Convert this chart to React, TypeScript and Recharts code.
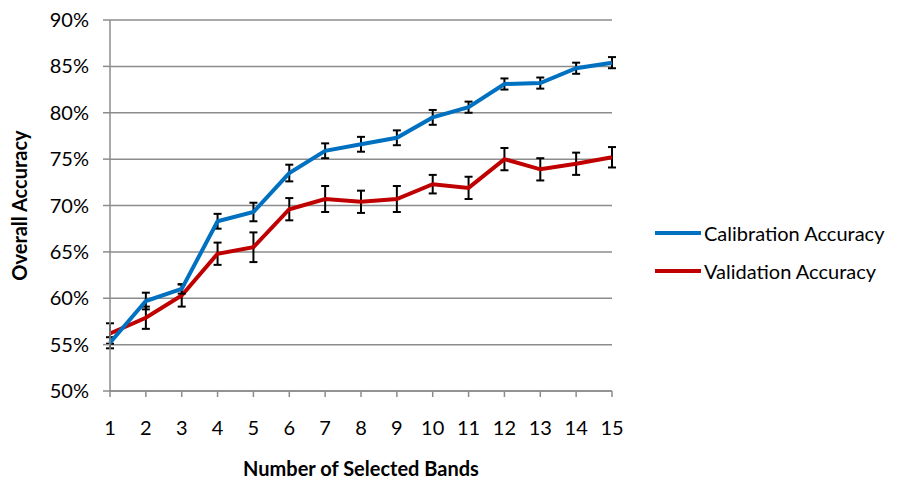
import { LineChart, Line, XAxis, YAxis, CartesianGrid, ErrorBar } from "recharts";

const bands = ["1", "2", "3", "4", "5", "6", "7", "8", "9", "10", "11", "12", "13", "14", "15"];
const calibration = [55.2, 59.7, 61.0, 68.3, 69.3, 73.5, 75.9, 76.6, 77.3, 79.5, 80.6, 83.1, 83.2, 84.8, 85.4];
const calibrationErr = [0.6, 0.9, 0.5, 0.8, 1.0, 0.9, 0.8, 0.8, 0.8, 0.8, 0.6, 0.6, 0.6, 0.6, 0.6];
const validation = [56.2, 57.9, 60.3, 64.8, 65.5, 69.6, 70.7, 70.4, 70.7, 72.3, 71.9, 75.0, 73.9, 74.5, 75.2];
const validationErr = [1.1, 1.2, 1.2, 1.2, 1.6, 1.2, 1.4, 1.2, 1.4, 1.0, 1.2, 1.2, 1.2, 1.2, 1.1];
const yTicks = [50, 55, 60, 65, 70, 75, 80, 85, 90];

const data = bands.map((b, i) => ({
  band: b,
  cal: calibration[i],
  calErr: calibrationErr[i],
  val: validation[i],
  valErr: validationErr[i],
}));

const FONT = "Lato, 'Open Sans', sans-serif";
const GRAY = "#8c8c8c";

const legendItems = [
  { label: "Calibration Accuracy", color: "#0070c0" },
  { label: "Validation Accuracy", color: "#c00000" },
];

export default function App() {
  return (
    <div style={{ position: "absolute", left: 0, top: 0, width: 898, height: 482, background: "#fff" }}>
      <LineChart width={898} height={482} data={data} margin={{ top: 20, right: 286, bottom: 0, left: 0 }}>
        <CartesianGrid vertical={false} stroke={GRAY} strokeWidth={1.5} />
        <XAxis
          dataKey="band"
          height={91}
          stroke={GRAY}
          strokeWidth={1.5}
          tickSize={6}
          tickMargin={24}
          tick={{ fill: "#000", fontSize: 20, fontFamily: FONT }}
          interval={0}
          label={{
            value: "Number of Selected Bands",
            position: "insideBottom",
            offset: 6,
            style: { fill: "#000", fontSize: 20, fontWeight: 700, fontFamily: FONT },
          }}
        />
        <YAxis
          width={110}
          domain={[50, 90]}
          ticks={yTicks}
          stroke={GRAY}
          strokeWidth={1.5}
          tickSize={7}
          tickMargin={14}
          tickFormatter={(v) => `${v}%`}
          tick={{ fill: "#000", fontSize: 20, fontFamily: FONT }}
          label={{
            value: "Overall Accuracy",
            angle: -90,
            position: "insideLeft",
            offset: 20,
            style: { textAnchor: "middle", fill: "#000", fontSize: 20, fontWeight: 700, fontFamily: FONT },
          }}
        />
        <Line dataKey="val" stroke="#c00000" strokeWidth={4} dot={false} isAnimationActive={false}>
          <ErrorBar dataKey="valErr" width={4} stroke="#000" strokeWidth={2} direction="y" />
        </Line>
        <Line dataKey="cal" stroke="#0070c0" strokeWidth={4} dot={false} isAnimationActive={false}>
          <ErrorBar dataKey="calErr" width={4} stroke="#000" strokeWidth={2} direction="y" />
        </Line>
      </LineChart>
      <div style={{ position: "absolute", left: 655, top: 214, fontFamily: FONT, fontSize: 20, color: "#000" }}>
        {legendItems.map((it) => (
          <div key={it.label} style={{ display: "flex", alignItems: "center", height: 38 }}>
            <div style={{ width: 46, height: 4, background: it.color, marginRight: 3 }} />
            <span>{it.label}</span>
          </div>
        ))}
      </div>
    </div>
  );
}
